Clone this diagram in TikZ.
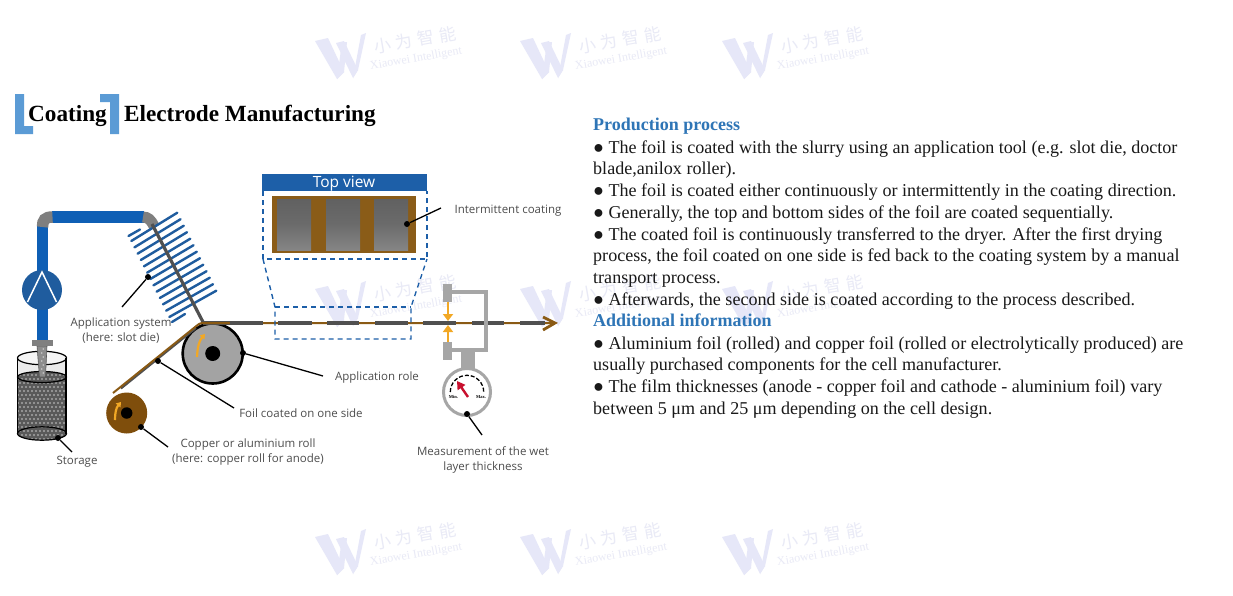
\documentclass[tikz,border=0pt]{standalone}
\usepackage{fontspec}
\setmainfont{Liberation Serif}
\newfontfamily\labelfont{Open Sans}
\newfontfamily\cjkfont{Noto Sans CJK SC}
\usetikzlibrary{arrows.meta}
\definecolor{wmw}{HTML}{E6E7F8}
\definecolor{wmt}{HTML}{E9EAF6}
\definecolor{pipeblue}{HTML}{0F5FB5}
\definecolor{darkblue}{HTML}{1F5C9E}
\definecolor{headblue}{HTML}{1D5FA8}
\definecolor{titleblue}{HTML}{5B9BD5}
\definecolor{headtext}{HTML}{2E75B6}
\definecolor{foilbrown}{HTML}{8A5A14}
\definecolor{rollbrown}{HTML}{7F4E0C}
\definecolor{bandbrown}{HTML}{8A5C18}
\definecolor{rollgray}{HTML}{A3A3A3}
\definecolor{coatgray}{HTML}{505050}
\definecolor{framegray}{HTML}{A6A6A6}
\definecolor{elbowgray}{HTML}{7F7F7F}
\definecolor{orangeA}{HTML}{F2A825}
\definecolor{redA}{HTML}{C8102E}
\definecolor{labelgray}{HTML}{4D4D4D}
\tikzset{
  x=1pt,y=-1pt,
  bodytext/.style={anchor=base west,inner sep=0pt,font=\fontsize{18.06}{20}\selectfont,text=black!90},
  headtxt/.style={anchor=base west,inner sep=0pt,font=\fontsize{18}{20}\selectfont\bfseries,text=headtext},
  titletxt/.style={anchor=base west,inner sep=0pt,font=\fontsize{23.2}{25}\selectfont\bfseries,text=black},
  lab/.style={inner sep=0pt,font=\labelfont\fontsize{11.5}{15}\selectfont,text=labelgray,align=center},
  pin/.style={circle,fill=black,inner sep=0pt,minimum size=6pt},
  leader/.style={draw=black,line width=1.3pt},
  dashblue/.style={draw=headblue,line width=1.4pt,dash pattern=on 5pt off 4pt},
  orangearc/.style={draw=orangeA,line width=2.2pt,-{Triangle[length=4.5pt,width=6pt]}},
  orangearrow/.style={draw=orangeA,line width=2.8pt,-{Triangle[length=7pt,width=10pt]}},
  stripe/.style={draw=darkblue,line width=2.4pt,line cap=round},
  coatseg/.style={draw=coatgray,line width=4pt},
}
\newcommand{\wmark}[3]{%
  \fill[wmw] (315+#1,#2-15) -- (328+#1,#2-18) -- (344+#1,#2+16) -- (337+#1,#2+23) -- cycle;
  \fill[wmw] (336+#1,#2-13) -- (344+#1,#2-15) -- (358+#1,#2+14) -- (353+#1,#2+22) -- cycle;
  \fill[wmw] (337+#1,#2+23) -- (344+#1,#2+16) -- (347+#1,#2-14) -- (342+#1,#2-14) -- cycle;
  \fill[wmw] (353+#1,#2+22) -- (358+#1,#2+14) -- (366+#1,#2-23) -- (361+#1,#2-21) -- cycle;
  \node[inner sep=0pt,text=wmt,rotate=10,font=\cjkfont\fontsize{17}{19}\selectfont] (#3a) at (415+#1,#2-16) {小\kern5pt为\kern5pt智\kern5pt能};
  \node[inner sep=0pt,text=wmt,rotate=10,font=\fontsize{12}{13}\selectfont] (#3b) at (416+#1,#2+3) {Xiaowei Intelligent};
}
\newcommand{\tankdots}{%
  \foreach \i in {0,...,13}{\foreach \j in {0,...,19}{
    \fill[black!35] ({16+\i*4+mod(\j,2)*2},{367+\j*4}) circle[radius=1.05];
  }}}
\begin{document}
\begin{tikzpicture}
\useasboundingbox (0,0) rectangle (1233,595);
\fill[white] (0,0) rectangle (1233,595);
% watermarks
\wmark{0}{56}{wa}\wmark{205}{56}{wb}\wmark{407}{56}{wc}
\wmark{0}{304}{wd}\wmark{205}{304}{we}\wmark{407}{304}{wf}
\wmark{0}{552}{wg}\wmark{205}{552}{wh}\wmark{407}{552}{wi}
% title
\fill[titleblue] (15,94) -- (24,94) -- (24,126) -- (33,126) -- (33,134) -- (15,134) -- cycle;
\fill[titleblue] (100,94) -- (119,94) -- (119,134) -- (110,134) -- (110,102) -- (100,102) -- cycle;
\node[titletxt] (t1) at (28,121.5) {Coating};
\node[titletxt] (t2) at (124,121.5) {Electrode Manufacturing};
% right text
\node[headtxt] (p0) at (593,130) {Production process};
\node[bodytext] (p1) at (593,153) {● The foil is coated with the slurry using an application tool (e.g. slot die, doctor};
\node[bodytext] (p2) at (593,174) {blade,anilox roller).};
\node[bodytext] (p3) at (593,196) {● The foil is coated either continuously or intermittently in the coating direction.};
\node[bodytext] (p4) at (593,218) {● Generally, the top and bottom sides of the foil are coated sequentially.};
\node[bodytext] (p5) at (593,240) {● The coated foil is continuously transferred to the dryer. After the first drying};
\node[bodytext] (p6) at (593,261) {process, the foil coated on one side is fed back to the coating system by a manual};
\node[bodytext] (p7) at (593,283) {transport process.};
\node[bodytext] (p8) at (593,305) {● Afterwards, the second side is coated according to the process described.};
\node[headtxt] (p9) at (593,326) {Additional information};
\node[bodytext] (p10) at (593,349) {● Aluminium foil (rolled) and copper foil (rolled or electrolytically produced) are};
\node[bodytext] (p11) at (593,370) {usually purchased components for the cell manufacturer.};
\node[bodytext] (p12) at (593,392) {● The film thicknesses (anode - copper foil and cathode - aluminium foil) vary};
\node[bodytext] (p13) at (593,414) {between 5 μm and 25 μm depending on the cell design.};
% storage tank
\fill[black!8] (17.5,358) rectangle (66,377);
\fill[black!4] (42,358) ellipse [x radius=24.5,y radius=6.7];
\fill[black!65] (42,433.5) ellipse [x radius=24.5,y radius=6.7];
\begin{scope}
  \clip (42,433.5) ellipse [x radius=24.5,y radius=6.7];
  \tankdots
\end{scope}
\fill[black!65] (17.5,377) rectangle (66,433.5);
\begin{scope}
  \clip (17.5,377) rectangle (66,433.5);
  \tankdots
\end{scope}
\fill[black!65] (42,377) ellipse [x radius=24.5,y radius=5.5];
\begin{scope}
  \clip (42,377) ellipse [x radius=24.5,y radius=5.5];
  \tankdots
\end{scope}
\draw[black,line width=1.2pt] (17.5,358) -- (17.5,433.5) (66,358) -- (66,433.5);
\draw[black,line width=1.2pt] (42,358) ellipse [x radius=24.5,y radius=6.7];
\draw[black,line width=1.2pt] (42,377) ellipse [x radius=24.5,y radius=5.5];
\draw[black,line width=1.2pt] (42,433.5) ellipse [x radius=24.5,y radius=6.7];
% nozzle and cap
\fill[black!45,draw=black!65,line width=.6pt] (37,346) -- (47,346) -- (45.5,377) -- (39.5,377) -- cycle;
\foreach \j in {0,1,2,3,4,5,6}{\fill[black!20] ({42.5-1.6*mod(\j,2)+.8},{349+\j*4}) circle[radius=.9];}
\fill[black!50] (32,340) rectangle (53,346);
% pipe
\draw[pipeblue,line width=11.5pt] (42.5,340) -- (42.5,226);
\draw[pipeblue,line width=11.5pt] (52,217) -- (144,217);
\draw[elbowgray,line width=11.5pt] (42.5,227) .. controls (42.5,220) and (45,217) .. (52.5,217);
\draw[elbowgray,line width=11pt] (143,217) .. controls (148,217) and (151,220) .. (154,226);
% pump
\node[circle,fill=darkblue,inner sep=0pt,minimum size=40pt] (pump) at (42,290) {};
\draw[white,line width=1.5pt] (27.5,302) -- (42,272) -- (56.5,302);
% slot die hatch
\draw[stripe] (128.5,236) -- (140,229.5);
\foreach \t in {0,...,12}{
  \draw[stripe] ({131.3+38*\t/12},{241+76*\t/12}) -- ({177.3+39*\t/12},{212.7+78*\t/12});
}
\draw[stripe] (172,322) -- (185,314);
\draw[coatgray,line width=3.2pt] (152,224) -- (203,322);
% rolls
\node[circle,draw=black,line width=2.6pt,fill=rollgray,inner sep=0pt,minimum size=60pt] (approll) at (212.7,353.5) {};
\node[circle,fill=black,inner sep=0pt,minimum size=15pt] (apphub) at (212.7,353.5) {};
\node[circle,fill=rollbrown,inner sep=0pt,minimum size=41pt] (curoll) at (126.7,413) {};
\node[circle,fill=black,inner sep=0pt,minimum size=11.5pt] (cuhub) at (126.7,413) {};
\draw[orangearc] (197,357) .. controls (197.5,347) and (199,341) .. (205,334);
\draw[orangearc] (115,420) .. controls (115,413) and (116,408) .. (121,402);
% foil
\draw[coatgray,line width=2pt] (121,388.5) -- (196,328);
\draw[coatgray,line width=4pt] (203,323) -- (263,323);
\draw[foilbrown,line width=2pt] (113,393) -- (197,325.5) .. controls (200,323) and (201,323) .. (205,323) -- (552,323);
\draw[coatseg] (278,323) -- (312,323);
\draw[coatseg] (327,323) -- (359,323);
\draw[coatseg] (375,323) -- (408,323);
\draw[coatseg] (423,323) -- (456,323);
\draw[coatseg] (472,323) -- (504,323);
\draw[coatseg] (520,323) -- (545,323);
\draw[coatseg] (230,323) -- (263,323);
\draw[foilbrown,line width=2.8pt] (543,317) -- (555,323) -- (543,330);
% top view
\fill[headblue] (262,174) rectangle (427,191);
\node[inner sep=0pt,text=white,font=\labelfont\fontsize{15.5}{17}\selectfont] (topview) at (344,183.5) {Top view};
\draw[dashblue] (263,191) -- (263,259) -- (427,259) -- (427,191);
\fill[bandbrown] (272,196) rectangle (416,253);
\shade[top color=black!62,bottom color=black!48,middle color=black!58] (277,199) rectangle (311,250);
\shade[top color=black!62,bottom color=black!48,middle color=black!58] (326,199) rectangle (360,250);
\shade[top color=black!62,bottom color=black!48,middle color=black!58] (374,199) rectangle (408,250);
\draw[dashblue] (263,259) -- (275,307) -- (275,339) -- (411,339) -- (411,307) -- (427,259);
\draw[dashblue] (275,307) -- (411,307);
% thickness measurement
\draw[framegray,line width=4pt] (452,292) -- (486,292) -- (486,350) -- (452,350);
\fill[framegray] (443,284) rectangle (452,302);
\fill[framegray] (443,342) rectangle (452,360);
\fill[framegray] (461,350) rectangle (475,371);
\draw[orangearrow] (448,302) -- (448,321);
\draw[orangearrow] (448,342) -- (448,325);
\node[circle,draw=framegray,line width=3pt,fill=white,inner sep=0pt,minimum size=47pt] (gauge) at (467,392) {};
\draw[black,line width=1.3pt,dash pattern=on 4pt off 2pt] (450.3,392) arc[start angle=180,end angle=0,radius=16.7,y radius=-16.7];
\node[inner sep=0pt,font=\fontsize{4.5}{5}\selectfont\bfseries] (gmin) at (453.5,397) {Min.};
\node[inner sep=0pt,font=\fontsize{4.5}{5}\selectfont\bfseries] (gmax) at (481,397) {Max.};
\draw[redA,line width=2.4pt,-{Triangle[length=8pt,width=9pt]}] (468,397) -- (457,381);
% leaders
\node[pin] (dApp) at (148,277) {};
\coordinate (eApp) at (122,307);
\draw[leader] (dApp) -- (eApp);
\node[pin] (dRole) at (243,353) {};
\coordinate (eRole) at (323,376);
\draw[leader] (dRole) -- (eRole);
\node[pin] (dFoil) at (158,361) {};
\coordinate (eFoil) at (234,408);
\draw[leader] (dFoil) -- (eFoil);
\node[pin] (dCu) at (141,427) {};
\coordinate (eCu) at (168,447);
\draw[leader] (dCu) -- (eCu);
\node[pin] (dSto) at (58,438) {};
\coordinate (eSto) at (72,452);
\draw[leader] (dSto) -- (eSto);
\node[pin] (dInt) at (407,224) {};
\coordinate (eInt) at (441,208);
\draw[leader] (dInt) -- (eInt);
\node[pin] (dGau) at (467,414) {};
\coordinate (eGau) at (482,435);
\draw[leader] (dGau) -- (eGau);
% labels
\node[lab] (lApp) at (121,331) {Application system\\(here: slot die)};
\node[lab] (lSto) at (77,461.5) {Storage};
\node[lab] (lCu) at (248,452.5) {Copper or aluminium roll\\(here: copper roll for anode)};
\node[lab] (lFoil) at (301,413) {Foil coated on one side};
\node[lab] (lRole) at (377,377.5) {Application role};
\node[lab] (lInt) at (508,210.5) {Intermittent coating};
\node[lab] (lGau) at (483,459.5) {Measurement of the wet\\layer thickness};
\end{tikzpicture}
\end{document}
